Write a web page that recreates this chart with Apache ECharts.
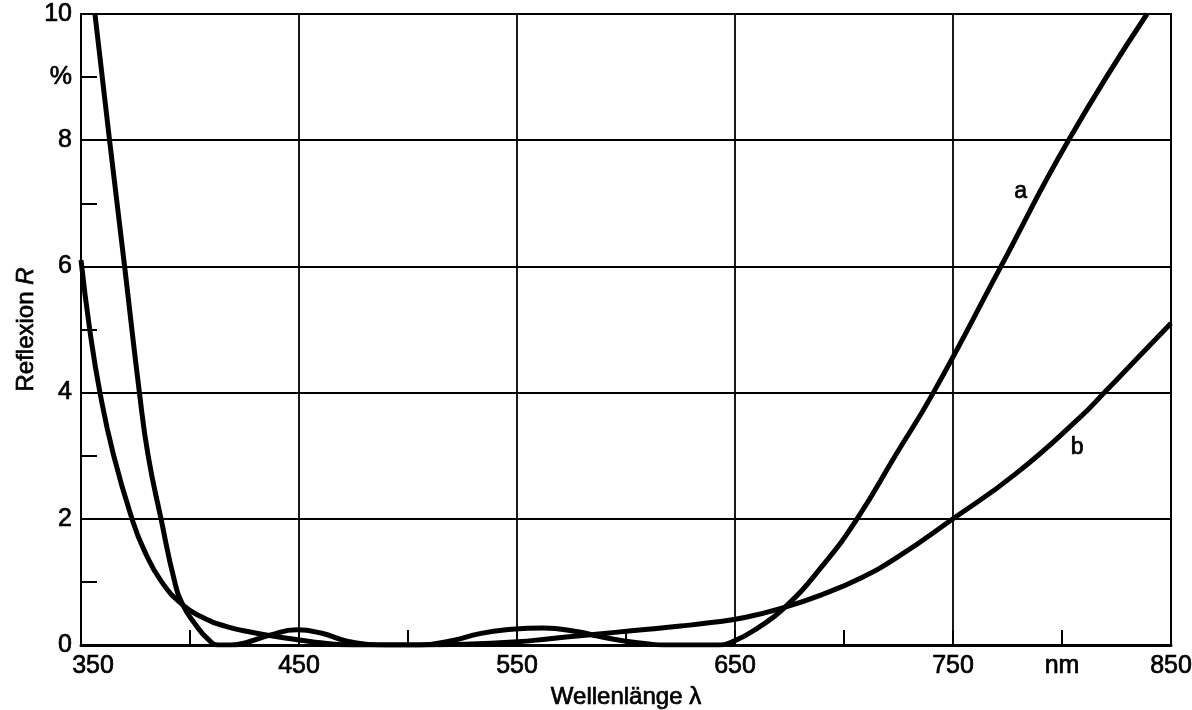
<!DOCTYPE html>
<html>
<head>
<meta charset="utf-8">
<title>Reflexion R über Wellenlänge</title>
<script src="https://cdn.jsdelivr.net/npm/echarts@6/dist/echarts.min.js"></script>
<style>
  html, body { margin: 0; padding: 0; background: #fff; }
  #chart { width: 1192px; height: 710px; }
</style>
</head>
<body>
<div id="chart"></div>
<script>
// Wavelength in nm and reflectance in % for coating a
const wavelengthA = [356.4, 363.1, 370, 376.8, 380.8, 386.7, 393, 396.8, 402, 408, 413, 419, 426, 437, 449, 460, 472, 482, 490,
  505, 520, 533, 545, 562, 578, 587, 600, 612, 618, 642, 650, 660, 673, 690, 706, 723.5, 741, 772, 803, 839];
const reflexionA = [10.0, 8.0, 6.0, 4.0, 3.0, 2.0, 1.0, 0.63, 0.35, 0.1, 0.0, 0.0, 0.04, 0.16, 0.24, 0.19, 0.06, 0.01, 0.0,
  0.0, 0.07, 0.18, 0.24, 0.27, 0.21, 0.14, 0.06, 0.01, 0.0, 0.0, 0.07, 0.26, 0.6, 1.25, 2.0, 3.0, 4.0, 6.0, 8.0, 10.0];

// Wavelength in nm and reflectance in % for coating b
const wavelengthB = [350, 354, 358.7, 365, 373.4, 379, 387, 396.8, 405, 416, 430, 440, 450, 461, 475, 505, 525, 550, 565, 580,
  595, 610, 625, 640, 655, 673, 690, 707, 724, 750, 779, 808, 820, 835, 850];
const reflexionB = [6.1, 5.0, 4.0, 3.0, 2.0, 1.5, 1.0, 0.63, 0.45, 0.3, 0.19, 0.13, 0.08, 0.03, 0.0, 0.0, 0.01, 0.05, 0.1, 0.15,
  0.2, 0.25, 0.3, 0.36, 0.44, 0.6, 0.8, 1.05, 1.38, 2.0, 2.72, 3.6, 4.02, 4.56, 5.1];

// Axis tick values and the unit labels placed among them
const xTicks = [350, 450, 550, 650, 750, 850];
const yTicks = [0, 2, 4, 6, 8, 10];
const xUnitAt = 800, xUnit = 'nm';
const yUnitAt = 9, yUnit = '%';

const FONT = '"Liberation Sans", Arial, Helvetica, sans-serif';
const INK = '#000';
// a thin outline in the text colour gives the printed, slightly heavy glyphs
const heavy = { textBorderColor: INK, textBorderWidth: 0.7 };

const pairs = (xs, ys) => xs.map((x, i) => [x, ys[i]]);

const chart = echarts.init(document.getElementById('chart'), null, { renderer: 'canvas' });

const curveLabel = (text, coord) => ({
  symbol: 'circle',
  symbolSize: 1,
  silent: true,
  itemStyle: { color: 'rgba(0,0,0,0)' },
  label: Object.assign({ show: true, position: 'inside', formatter: text, color: INK, fontSize: 23, fontFamily: FONT }, heavy),
  data: [{ coord: coord }]
});

const tickText = Object.assign({ color: INK, fontSize: 25, fontFamily: FONT }, heavy);

chart.setOption({
  animation: false,
  backgroundColor: '#fff',
  grid: {
    left: 81, right: 21, top: 14, bottom: 65, outerBoundsMode: 'none',
    show: true, borderColor: INK, borderWidth: 2, backgroundColor: 'transparent'
  },
  xAxis: [
    {
      type: 'value', min: xTicks[0], max: xTicks[xTicks.length - 1], interval: 100,
      axisLine: { show: true, lineStyle: { color: INK, width: 3 } },
      axisTick: { show: false },
      splitLine: { show: true, lineStyle: { color: INK, width: 1.8 } },
      axisLabel: Object.assign({}, tickText, {
        margin: 9,
        formatter: v => (v === xTicks[0] ? '{first|' + v + '}' : String(v)),
        rich: { first: Object.assign({}, tickText, { padding: [0, 0, 0, 24] }) }
      }),
      name: 'Wellenlänge λ', nameLocation: 'middle', nameGap: 40, nameMoveOverlap: false,
      nameTextStyle: Object.assign({ color: INK, fontSize: 24, fontFamily: FONT }, heavy)
    },
    {
      type: 'value', position: 'bottom', min: xTicks[0], max: xTicks[xTicks.length - 1], interval: 50,
      axisLine: { show: false },
      axisTick: { show: true, inside: true, length: 15, lineStyle: { color: INK, width: 2 } },
      splitLine: { show: false },
      axisLabel: Object.assign({}, tickText, { margin: 9, formatter: v => (v === xUnitAt ? xUnit : '') })
    }
  ],
  yAxis: [
    {
      type: 'value', min: yTicks[0], max: yTicks[yTicks.length - 1], interval: 2,
      axisLine: { show: true, lineStyle: { color: INK, width: 2 } },
      axisTick: { show: false },
      splitLine: { show: true, lineStyle: { color: INK, width: 1.8 } },
      axisLabel: Object.assign({}, tickText, { margin: 9 }),
      name: 'Reflexion {i|R}', nameLocation: 'middle', nameGap: 43, nameMoveOverlap: false,
      nameTextStyle: Object.assign({ color: INK, fontSize: 24, fontFamily: FONT }, heavy, {
        rich: { i: Object.assign({ color: INK, fontSize: 24, fontFamily: FONT, fontStyle: 'italic' }, heavy) }
      })
    },
    {
      type: 'value', position: 'left', min: yTicks[0], max: yTicks[yTicks.length - 1], interval: 1,
      axisLine: { show: false },
      axisTick: { show: true, inside: true, length: 16, lineStyle: { color: INK, width: 2 } },
      splitLine: { show: false },
      axisLabel: Object.assign({}, tickText, { margin: 9, formatter: v => (v === yUnitAt ? yUnit : '') })
    }
  ],
  series: [
    {
      name: 'a', type: 'line', xAxisIndex: 0, yAxisIndex: 0,
      data: pairs(wavelengthA, reflexionA),
      showSymbol: false, smooth: 0.5, clip: true,
      lineStyle: { color: INK, width: 5 },
      markPoint: curveLabel('a', [781, 7.18])
    },
    {
      name: 'b', type: 'line', xAxisIndex: 0, yAxisIndex: 0,
      data: pairs(wavelengthB, reflexionB),
      showSymbol: false, smooth: 0.5, clip: true,
      lineStyle: { color: INK, width: 5 },
      markPoint: curveLabel('b', [807, 3.12])
    }
  ]
});
</script>
</body>
</html>
